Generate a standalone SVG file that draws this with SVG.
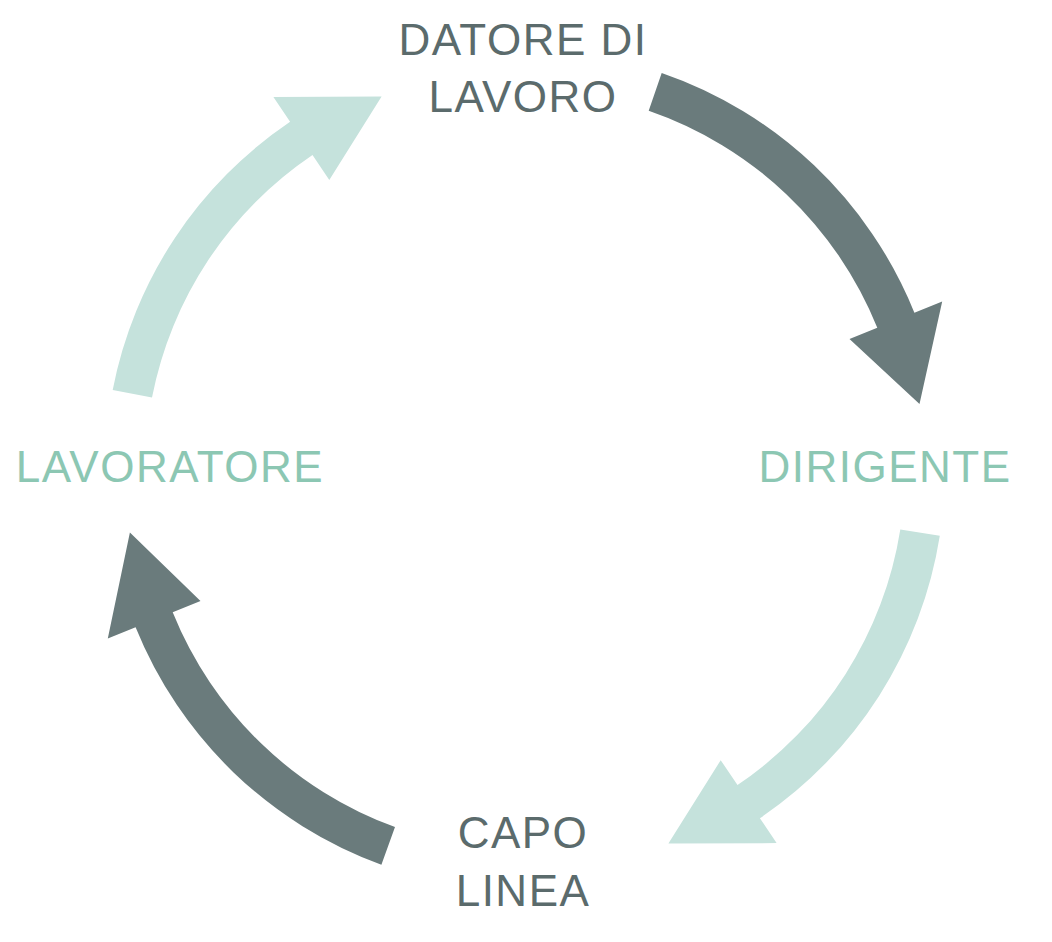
<svg xmlns="http://www.w3.org/2000/svg" width="1052" height="942" viewBox="0 0 1052 942">
<style>
.dark{fill:#6a7b7c}
.light{fill:#c5e2dc}
text{font-family:"Liberation Sans",Arial,sans-serif;font-size:44px;text-anchor:middle;letter-spacing:1.5px}
.td{fill:#5b6b6c}
.tl{fill:#8cc7b3}
</style>
<rect width="1052" height="942" fill="#fff"/>
<g id="connectors">
<path class="dark" d="M661.7,72.9 A420,420 0 0 1 914.4,312.7 L942.2,301.4 L919.5,404 L849.5,338.9 L877.3,327.7 A380,380 0 0 0 648.7,110.7 Z"/>
<path class="light" d="M939.8,535.7 A420,420 0 0 1 759.9,818.2 L776.6,843.1 L668.4,843.4 L720.7,760.2 L737.5,785.0 A380,380 0 0 0 900.3,529.4 Z"/>
<path class="dark" d="M381.4,864.7 A420,420 0 0 1 135.6,627.3 L107.8,638.6 L129.9,532.6 L200.5,601.1 L172.7,612.3 A380,380 0 0 0 395.0,827.1 Z"/>
<path class="light" d="M112.7,389.9 A420,420 0 0 1 290.1,121.8 L273.4,96.9 L381.6,96.6 L329.3,179.9 L312.5,155.0 A380,380 0 0 0 152.0,397.5 Z"/>
</g>
<g id="datore"><text class="td" x="523" y="55">DATORE DI</text><text class="td" x="523" y="112">LAVORO</text></g>
<g id="dirigente"><text class="tl" x="885" y="482">DIRIGENTE</text></g>
<g id="capolinea"><text class="td" x="523" y="848">CAPO</text><text class="td" x="523" y="906">LINEA</text></g>
<g id="lavoratore"><text class="tl" x="170" y="482">LAVORATORE</text></g>
</svg>
